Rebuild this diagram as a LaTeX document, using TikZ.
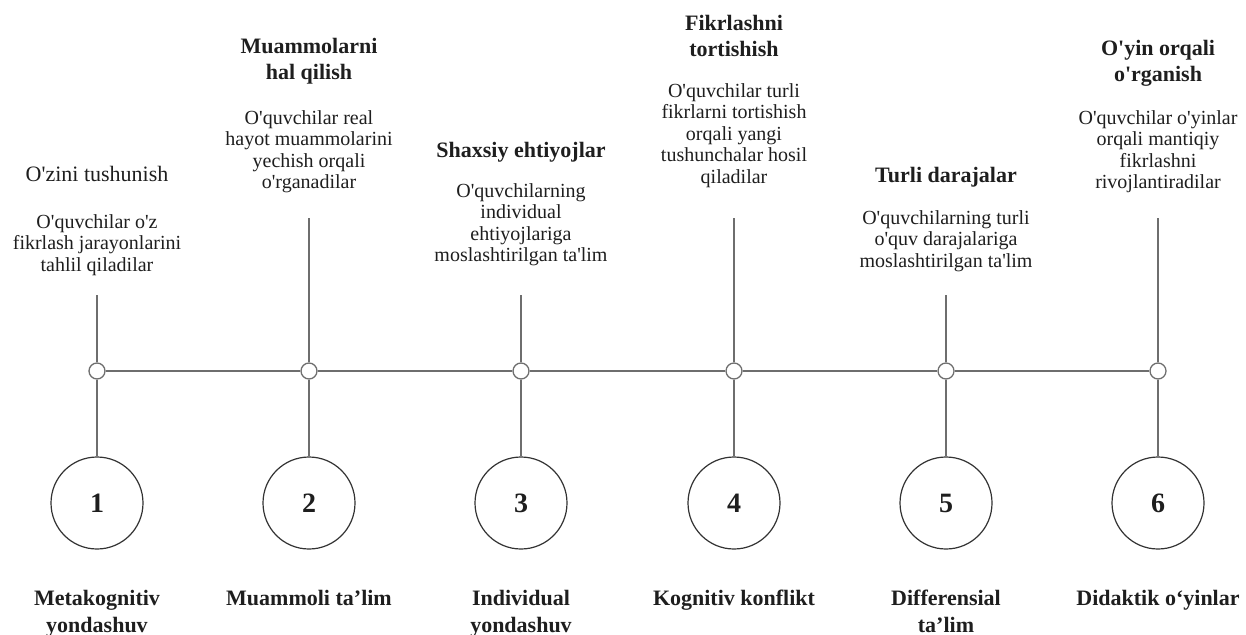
\documentclass[tikz,border=0pt]{standalone}
\usepackage{fontspec}
\setmainfont{Liberation Serif}
\usetikzlibrary{positioning}
\definecolor{linegray}{HTML}{6E6E6E}
\definecolor{ringdark}{HTML}{333333}
\definecolor{inkdark}{HTML}{1E1E1E}
\newcommand{\ap}{\textquotesingle}

\begin{document}
\begin{tikzpicture}[x=1pt, y=-1pt,
		hub/.style={draw=linegray, fill=white, circle, line width=1.3pt,
			minimum size=16pt, inner sep=0pt},
		ring/.style={draw=ringdark, circle, line width=1.2pt, minimum size=92pt,
			inner sep=0pt, text=inkdark, font=\fontsize{28}{30}\selectfont\bfseries},
		wire/.style={draw=linegray, line width=1.6pt},
		head/.style={anchor=north, align=center, inner sep=0pt, text=inkdark,
			font=\fontsize{22}{26}\selectfont\bfseries},
		note/.style={anchor=north, align=center, inner sep=0pt, text=inkdark,
			font=\fontsize{20}{21.5}\selectfont},
		method/.style={anchor=north, align=center, inner sep=0pt, text=inkdark,
			font=\fontsize{22}{27}\selectfont\bfseries}
		]
		
		\useasboundingbox (0,0) rectangle (1246,634);
		
		% hubs on the axis
		\node[hub] (h1) at (97,371) {};
		\node[hub] (h2) at (309,371) {};
		\node[hub] (h3) at (521,371) {};
		\node[hub] (h4) at (734,371) {};
		\node[hub] (h5) at (946,371) {};
		\node[hub] (h6) at (1158,371) {};
		
		% numbered rings
		\node[ring] (r1) at (97,503) {1};
		\node[ring] (r2) at (309,503) {2};
		\node[ring] (r3) at (521,503) {3};
		\node[ring] (r4) at (734,503) {4};
		\node[ring] (r5) at (946,503) {5};
		\node[ring] (r6) at (1158,503) {6};
		
		% upper ends of the stems
		\coordinate (t1) at (97,295);
		\coordinate (t2) at (309,218);
		\coordinate (t3) at (521,295);
		\coordinate (t4) at (734,218);
		\coordinate (t5) at (946,295);
		\coordinate (t6) at (1158,218);
		
		\draw[wire] (h1) -- (h2);
		\draw[wire] (h2) -- (h3);
		\draw[wire] (h3) -- (h4);
		\draw[wire] (h4) -- (h5);
		\draw[wire] (h5) -- (h6);
		
		\draw[wire] (t1) -- (h1);
		\draw[wire] (h1) -- (r1);
		\node[head, font=\fontsize{22}{26}\selectfont] (hd1) at (97,166) {O\ap zini tushunish};
		\node[note] (nt1) at (97,214) {O\ap quvchilar o\ap z\\fikrlash jarayonlarini\\tahlil qiladilar};
		\node[method] (m1) at (97,590) {Metakognitiv\\yondashuv};
		
		\draw[wire] (t2) -- (h2);
		\draw[wire] (h2) -- (r2);
		\node[head] (hd2) at (309,38) {Muammolarni\\hal qilish};
		\node[note] (nt2) at (309,110) {O\ap quvchilar real\\hayot muammolarini\\yechish orqali\\o\ap rganadilar};
		\node[method] (m2) at (309,590) {Muammoli ta’lim};
		
		\draw[wire] (t3) -- (h3);
		\draw[wire] (h3) -- (r3);
		\node[head] (hd3) at (521,142) {Shaxsiy ehtiyojlar};
		\node[note] (nt3) at (521,183) {O\ap quvchilarning\\individual\\ehtiyojlariga\\moslashtirilgan ta\ap lim};
		\node[method] (m3) at (521,590) {Individual\\yondashuv};
		
		\draw[wire] (t4) -- (h4);
		\draw[wire] (h4) -- (r4);
		\node[head] (hd4) at (734,15) {Fikrlashni\\tortishish};
		\node[note] (nt4) at (734,83) {O\ap quvchilar turli\\fikrlarni tortishish\\orqali yangi\\tushunchalar hosil\\qiladilar};
		\node[method] (m4) at (734,590) {Kognitiv konflikt};
		
		\draw[wire] (t5) -- (h5);
		\draw[wire] (h5) -- (r5);
		\node[head] (hd5) at (946,167) {Turli darajalar};
		\node[note] (nt5) at (946,210) {O\ap quvchilarning turli\\o\ap quv darajalariga\\moslashtirilgan ta\ap lim};
		\node[method] (m5) at (946,590) {Differensial\\ta’lim};
		
		\draw[wire] (t6) -- (h6);
		\draw[wire] (h6) -- (r6);
		\node[head] (hd6) at (1158,40) {O\ap yin orqali\\o\ap rganish};
		\node[note] (nt6) at (1158,110) {O\ap quvchilar o\ap yinlar\\orqali mantiqiy\\fikrlashni\\rivojlantiradilar};
		\node[method] (m6) at (1158,590) {Didaktik o‘yinlar};
	\end{tikzpicture}
\end{document}
